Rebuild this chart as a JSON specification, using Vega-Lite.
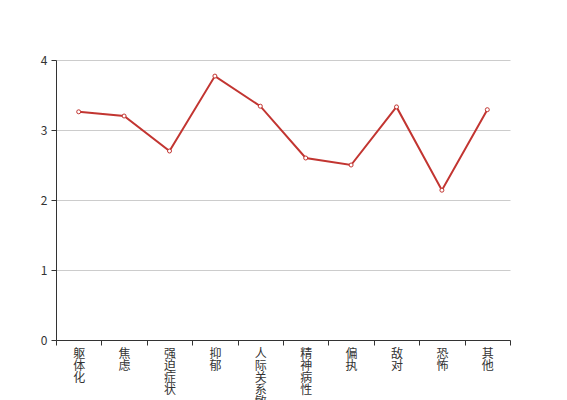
{
  "$schema": "https://vega.github.io/schema/vega-lite/v6.json",
  "width": 454,
  "height": 280,
  "autosize": {"type": "none"},
  "padding": {"left": 56, "top": 60, "right": 57, "bottom": 60},
  "background": "white",
  "config": {"view": {"stroke": null}, "font": "Noto Sans CJK SC"},
  "data": {
    "values": [
      {"factor": "躯体化", "score": 3.26},
      {"factor": "焦虑", "score": 3.2},
      {"factor": "强迫症状", "score": 2.7},
      {"factor": "抑郁", "score": 3.77},
      {"factor": "人际关系敏感", "score": 3.34},
      {"factor": "精神病性", "score": 2.6},
      {"factor": "偏执", "score": 2.5},
      {"factor": "敌对", "score": 3.33},
      {"factor": "恐怖", "score": 2.14},
      {"factor": "其他", "score": 3.29}
    ]
  },
  "encoding": {
    "x": {
      "field": "factor",
      "type": "nominal",
      "sort": null,
      "scale": {"type": "band", "paddingInner": 0, "paddingOuter": 0},
      "axis": {
        "title": null,
        "labelAngle": 0,
        "labelExpr": "split(datum.label, '')",
        "labelLineHeight": 12,
        "labelFontSize": 12,
        "labelColor": "#333",
        "labelBaseline": "top",
        "labelPadding": 3,
        "tickBand": "extent",
        "tickColor": "#333",
        "tickSize": 5,
        "domainColor": "#333",
        "grid": false
      }
    },
    "y": {
      "field": "score",
      "type": "quantitative",
      "scale": {"domain": [0, 4], "nice": false},
      "axis": {
        "title": null,
        "values": [0, 1, 2, 3, 4],
        "labelFontSize": 12,
        "labelColor": "#333",
        "labelPadding": 4,
        "tickColor": "#333",
        "tickSize": 5,
        "domainColor": "#333",
        "gridColor": "#ccc"
      }
    }
  },
  "layer": [
    {"mark": {"type": "line", "color": "#c23531", "strokeWidth": 2}},
    {"mark": {"type": "point", "shape": "circle", "filled": true, "fill": "white", "stroke": "#c23531", "strokeWidth": 1, "size": 16, "opacity": 1}}
  ]
}
